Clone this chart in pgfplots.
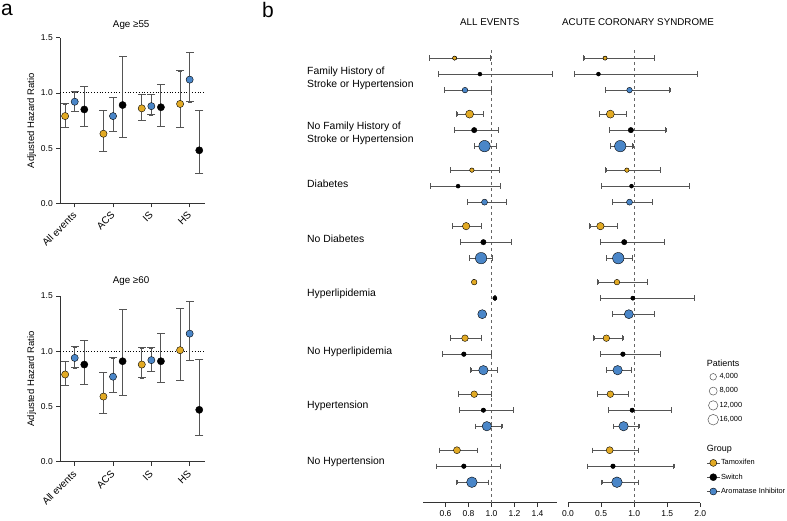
\documentclass[border=0pt]{standalone}
\usepackage{pgfplots}
\pgfplotsset{compat=1.18}
\usepackage{pgfplotstable}
\usepackage{fontspec}
\setmainfont{Liberation Sans}

\definecolor{tamc}{RGB}{226,170,36}
\definecolor{aic}{RGB}{74,134,200}
\definecolor{ebar}{RGB}{85,85,85}

% panel a, age >= 55 (x = category index + offset)
\pgfplotstableread{
x y lo hi
-0.25 0.79 0.69 0.90
0.75 0.63 0.47 0.84
1.75 0.86 0.75 0.99
2.75 0.90 0.69 1.20
}\tamA
\pgfplotstableread{
x y lo hi
0 0.92 0.83 1.01
1 0.79 0.65 0.96
2 0.88 0.80 0.99
3 1.12 0.92 1.37
}\aiA
\pgfplotstableread{
x y lo hi
0.25 0.85 0.70 1.06
1.25 0.89 0.60 1.33
2.25 0.87 0.70 1.08
3.25 0.48 0.27 0.84
}\swA
% panel a, age >= 60
\pgfplotstableread{
x y lo hi
-0.25 0.79 0.69 0.91
0.75 0.59 0.44 0.81
1.75 0.88 0.76 1.03
2.75 1.01 0.74 1.39
}\tamC
\pgfplotstableread{
x y lo hi
0 0.94 0.85 1.04
1 0.77 0.63 0.94
2 0.92 0.82 1.03
3 1.16 0.92 1.45
}\aiC
\pgfplotstableread{
x y lo hi
0.25 0.88 0.70 1.10
1.25 0.91 0.60 1.38
2.25 0.91 0.72 1.16
3.25 0.47 0.24 0.93
}\swC

% panel b: row, marker radius, all events (HR lo hi), ACS (HR lo hi)
\pgfplotstableread{
y r ae aelo aehi acs acslo acshi
0 2.0 0.68 0.46 0.99 0.56 0.24 1.30
-3.5 4.0 0.81 0.70 0.93 0.64 0.47 0.88
-7 2.2 0.83 0.64 1.07 0.89 0.57 1.39
-10.5 3.7 0.78 0.66 0.91 0.49 0.33 0.75
-14 2.8 0.85 0.845 0.855 0.74 0.45 1.20
-17.5 3.3 0.77 0.64 0.91 0.58 0.39 0.83
-21 3.3 0.85 0.71 1.00 0.64 0.44 0.91
-24.5 3.5 0.70 0.55 0.88 0.63 0.37 1.06
}\tamB
\pgfplotstableread{
y r ae aelo aehi acs acslo acshi
-1 1.3 0.90 0.54 1.53 0.46 0.10 1.95
-4.5 2.7 0.85 0.68 1.06 0.95 0.62 1.48
-8 1.5 0.71 0.47 1.08 0.96 0.50 1.83
-11.5 2.7 0.93 0.73 1.17 0.85 0.49 1.46
-15 2.0 1.03 1.025 1.035 0.98 0.49 1.91
-18.5 2.3 0.76 0.57 1.00 0.83 0.49 1.40
-22 2.2 0.93 0.72 1.19 0.97 0.61 1.56
-25.5 2.3 0.76 0.52 1.08 0.68 0.29 1.60
}\swB
\pgfplotstableread{
y r ae aelo aehi acs acslo acshi
-2 2.8 0.77 0.59 1.00 0.93 0.56 1.54
-5.5 5.7 0.94 0.85 1.04 0.79 0.64 0.98
-9 3.0 0.94 0.79 1.13 0.93 0.67 1.28
-12.5 5.7 0.91 0.81 1.01 0.76 0.58 0.97
-16 4.5 0.92 0.915 0.925 0.92 0.67 1.30
-19.5 4.7 0.93 0.82 1.05 0.75 0.58 0.96
-23 4.7 0.96 0.86 1.09 0.84 0.68 1.07
-26.5 5.3 0.83 0.70 0.97 0.74 0.51 1.06
}\aiB

\pgfplotsset{
  panelA/.style={scale only axis, width=144.7pt, height=165.6pt, anchor=south west,
    xmin=-0.376, xmax=3.4, ymin=0, ymax=1.5, clip=false,
    axis x line*=bottom, axis y line*=left, tick align=outside,
    major tick length=4pt, axis line style={black!80, line width=0.7pt},
    tick style={black!80, line width=0.7pt},
    xtick={0,1,2,3}, xticklabels={},
    ytick={0,0.5,1,1.5},
    yticklabel style={font=\fontsize{8.5}{10}\selectfont, /pgf/number format/.cd, fixed, fixed zerofill, precision=1, assume math mode=true},
    ylabel={Adjusted Hazard Ratio},
    ylabel style={at={(axis description cs:-0.198,0.5)}, anchor=center, font=\fontsize{9.5}{11}\selectfont}},
  % error bar lines only
  ybar lines/.style={only marks, mark=none, forget plot,
    /pgfplots/error bars/y dir=both, /pgfplots/error bars/y explicit,
    /pgfplots/error bars/error bar style={ebar, line width=1pt}},
  xbar lines/.style={only marks, mark=none, forget plot,
    /pgfplots/error bars/x dir=both, /pgfplots/error bars/x explicit,
    /pgfplots/error bars/error bar style={ebar, line width=0.9pt}},
  capA/.style={only marks, mark=-, mark size=4pt, forget plot, mark options={ebar, line width=1pt}},
  capB/.style={only marks, mark=|, mark size=2.7pt, forget plot, mark options={ebar, line width=0.9pt}},
  dotA/.style={only marks, mark=*, mark size=3.6pt, mark options={fill=#1, draw=black, line width=0.4pt}},
  sized/.style={scatter, only marks, mark=*, scatter src=x,
    scatter/use mapped color={draw=black, fill=#1, line width=0.4pt},
    visualization depends on={\thisrow{r} \as \rr},
    scatter/@pre marker code/.append style={/tikz/mark size=\rr}},
  forest/.style={scale only axis, height=455pt, anchor=south west,
    ymin=-27.78, ymax=0.65, axis y line=none, axis x line*=bottom, clip=false,
    tick align=outside, major tick length=4pt,
    axis line style={black!80, line width=0.7pt}, tick style={black!80, line width=0.7pt},
    xticklabel style={font=\fontsize{8.5}{10}\selectfont, /pgf/number format/.cd, fixed, fixed zerofill, precision=1, assume math mode=true}},
}
\tikzset{catlabel/.style={rotate=45, anchor=east, inner sep=0pt, font=\fontsize{10}{11}\selectfont}}

% intervals: vertical (panel a) and horizontal (panel b), caps drawn as marks
\newcommand\errA[1]{%
  \addplot[ybar lines] table[x=x, y=y, y error plus expr=\thisrow{hi}-\thisrow{y}, y error minus expr=\thisrow{y}-\thisrow{lo}] {#1};
  \addplot[capA] table[x=x, y=lo] {#1};
  \addplot[capA] table[x=x, y=hi] {#1};
}
\newcommand\errB[2]{%
  \addplot[xbar lines] table[x=#2, y=y, x error plus expr=\thisrow{#2hi}-\thisrow{#2}, x error minus expr=\thisrow{#2}-\thisrow{#2lo}] {#1};
  \addplot[capB] table[x=#2lo, y=y] {#1};
  \addplot[capB] table[x=#2hi, y=y] {#1};
}
\newcommand\catlabels{%
  \path (axis cs:0,0) ++(0pt,-10.3pt) node[catlabel] {All events};
  \path (axis cs:1,0) ++(0pt,-10.3pt) node[catlabel] {ACS};
  \path (axis cs:2,0) ++(0pt,-10.3pt) node[catlabel] {IS};
  \path (axis cs:3,0) ++(0pt,-10.3pt) node[catlabel] {HS};
}

\begin{document}
\begin{tikzpicture}
\useasboundingbox (0,0) rectangle (787pt,520pt);

% ---------- panel a, top
\begin{axis}[panelA, at={(60.3pt,316.7pt)}]
  \addplot[black, dotted, line width=0.8pt, forget plot] coordinates {(-0.376,1) (3.4,1)};
  \errA{\tamA}
  \errA{\aiA}
  \errA{\swA}
  \addplot[dotA=tamc] table[x=x, y=y] {\tamA};
  \addplot[dotA=aic] table[x=x, y=y] {\aiA};
  \addplot[dotA=black] table[x=x, y=y] {\swA};
  \catlabels
\end{axis}

% ---------- panel a, bottom
\begin{axis}[panelA, at={(60.3pt,58.3pt)}]
  \addplot[black, dotted, line width=0.8pt, forget plot] coordinates {(-0.376,1) (3.4,1)};
  \errA{\tamC}
  \errA{\aiC}
  \errA{\swC}
  \addplot[dotA=tamc] table[x=x, y=y] {\tamC};
  \addplot[dotA=aic] table[x=x, y=y] {\aiC};
  \addplot[dotA=black] table[x=x, y=y] {\swC};
  \catlabels
\end{axis}

% ---------- panel b, all events
\begin{axis}[forest, width=134pt, at={(423pt,17.3pt)}, xmin=0.405, xmax=1.57,
    xtick={0.6,0.8,1.0,1.2,1.4}]
  \addplot[black!60, dashed, line width=0.8pt, forget plot] coordinates {(1,-27.78) (1,0.65)};
  \errB{\tamB}{ae}
  \errB{\swB}{ae}
  \errB{\aiB}{ae}
  \addplot[sized=tamc] table[x=ae, y=y] {\tamB};
  \addplot[sized=black] table[x=ae, y=y] {\swB};
  \addplot[sized=aic] table[x=ae, y=y] {\aiB};
\end{axis}

% ---------- panel b, acute coronary syndrome
\begin{axis}[forest, width=132.3pt, at={(568pt,17.3pt)}, xmin=0, xmax=2,
    xtick={0,0.5,1,1.5,2}]
  \addplot[black!60, dashed, line width=0.8pt, forget plot] coordinates {(1,-27.78) (1,0.65)};
  \errB{\tamB}{acs}
  \errB{\swB}{acs}
  \errB{\aiB}{acs}
  \addplot[sized=tamc] table[x=acs, y=y] {\tamB};
  \addplot[sized=black] table[x=acs, y=y] {\swB};
  \addplot[sized=aic] table[x=acs, y=y] {\aiB};
\end{axis}

% ---------- legends
\begin{axis}[hide axis, scale only axis, width=1pt, height=1pt, at={(707.7pt,149.4pt)}, anchor=center,
    xmin=0, xmax=1, ymin=0, ymax=1,
    legend style={at={(0.5,0.5)}, anchor=north west, draw=none, fill=none, inner sep=0pt, row sep=2.3pt,
      nodes={inner sep=1pt, minimum height=12pt, minimum width=12pt, font=\fontsize{7.4}{8}\selectfont}},
    legend cell align=left,
    legend image code/.code={\draw[#1] plot coordinates {(0pt,0pt)};}]
  \addlegendimage{only marks, mark=*, mark size=3.3pt, mark options={draw=black!65, fill=white, line width=0.5pt}}
  \addlegendentry{4,000}
  \addlegendimage{only marks, mark=*, mark size=4.0pt, mark options={draw=black!65, fill=white, line width=0.5pt}}
  \addlegendentry{8,000}
  \addlegendimage{only marks, mark=*, mark size=4.7pt, mark options={draw=black!65, fill=white, line width=0.5pt}}
  \addlegendentry{12,000}
  \addlegendimage{only marks, mark=*, mark size=5.3pt, mark options={draw=black!65, fill=white, line width=0.5pt}}
  \addlegendentry{16,000}
\end{axis}

\begin{axis}[hide axis, scale only axis, width=1pt, height=1pt, at={(706.7pt,63.3pt)}, anchor=center,
    xmin=0, xmax=1, ymin=0, ymax=1,
    legend style={at={(0.5,0.5)}, anchor=north west, draw=none, fill=none, inner sep=0pt, row sep=2.3pt,
      nodes={inner sep=1pt, minimum height=12pt, font=\fontsize{7.4}{8}\selectfont}},
    legend cell align=left,
    legend image code/.code={\draw[#1,mark repeat=2,mark phase=2] plot coordinates {(0pt,0pt) (6pt,0pt) (12.3pt,0pt)};}]
  \addlegendimage{ebar, line width=0.8pt, mark=*, mark size=3.5pt, mark options={fill=tamc, draw=black, line width=0.4pt}}
  \addlegendentry{Tamoxifen}
  \addlegendimage{ebar, line width=0.8pt, mark=*, mark size=3.5pt, mark options={fill=black, draw=black, line width=0.4pt}}
  \addlegendentry{Switch}
  \addlegendimage{ebar, line width=0.8pt, mark=*, mark size=3.5pt, mark options={fill=aic, draw=black, line width=0.4pt}}
  \addlegendentry{Aromatase Inhibitor}
\end{axis}

% ---------- texts
\node[font=\fontsize{21}{24}\selectfont] at (7pt,510pt) {a};
\node[font=\fontsize{21}{24}\selectfont] at (268pt,510pt) {b};
\node[font=\fontsize{9.8}{11}\selectfont] at (131.2pt,495pt) {Age ≥55};
\node[font=\fontsize{9.8}{11}\selectfont] at (131pt,239pt) {Age ≥60};
\node[font=\fontsize{9.8}{11}\selectfont] at (489.8pt,498.3pt) {ALL EVENTS};
\node[font=\fontsize{9.8}{11}\selectfont] at (638pt,498.3pt) {ACUTE CORONARY SYNDROME};
\begin{scope}[every node/.style={anchor=west, align=left, inner sep=0pt, font=\fontsize{10.4}{12.7}\selectfont}]
\node at (307pt,442pt) {Family History of\\Stroke or Hypertension};
\node at (307pt,386.5pt) {No Family History of\\Stroke or Hypertension};
\node at (307pt,336pt) {Diabetes};
\node at (307pt,281.3pt) {No Diabetes};
\node at (307pt,225.7pt) {Hyperlipidemia};
\node at (307pt,168.3pt) {No Hyperlipidemia};
\node at (307pt,114pt) {Hypertension};
\node at (307pt,58pt) {No Hypertension};
\end{scope}
\node[anchor=west, inner sep=0pt, font=\fontsize{9}{11}\selectfont] at (706.7pt,156.7pt) {Patients};
\node[anchor=west, inner sep=0pt, font=\fontsize{9}{11}\selectfont] at (706.7pt,71pt) {Group};
\end{tikzpicture}
\end{document}
